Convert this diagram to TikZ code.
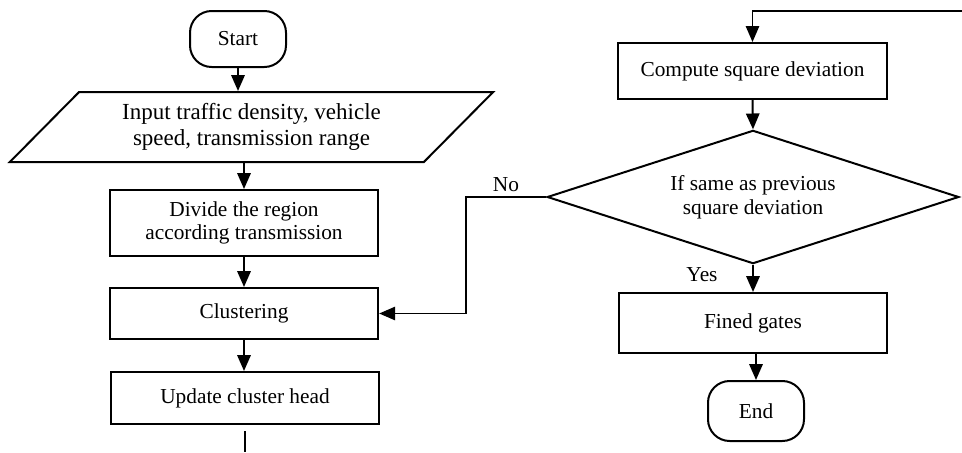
\documentclass[tikz,border=0pt]{standalone}
\usepackage{fontspec}
\setmainfont{Liberation Serif}
\usetikzlibrary{shapes.geometric,arrows.meta,positioning}

\tikzset{
  procbox/.style={draw, line width=1.2pt, minimum width=161pt, align=center, inner sep=2pt},
  termbox/.style={draw, line width=1.2pt, rounded corners=13pt, minimum width=57.6pt, align=center},
  iobox/.style={draw, line width=1.2pt, trapezium, trapezium left angle=36, trapezium right angle=144,
    trapezium stretches body, minimum width=290pt, minimum height=42pt, align=center, inner sep=1pt,
    font=\fontsize{13.8}{15.5}\selectfont},
  decbox/.style={draw, line width=1.2pt, diamond, aspect=3.1, minimum width=247pt, minimum height=80pt,
    align=center, inner sep=0pt},
  flowarrow/.style={-{Triangle[width=8pt,length=9.5pt]}, line width=1.2pt},
  thinarrow/.style={-{Triangle[width=8pt,length=9.5pt]}, line width=0.8pt}
}

\begin{document}
\begin{tikzpicture}[x=0.6pt, y=-0.6pt, font=\fontsize{12.8}{14.2}\selectfont]
  \useasboundingbox (0,0) rectangle (962,452);

  % Left column
  \node[termbox, minimum height=33.6pt] (start) at (238,39) {Start};
  \node[iobox] (input) at (251.5,127) {Input traffic density, vehicle\\speed, transmission range};
  \node[procbox, minimum height=39.6pt] (divide) at (244,223) {Divide the region\\according transmission};
  \node[procbox, minimum height=30.6pt] (cluster) at (244,313.5) {Clustering};
  \node[procbox, minimum height=31.2pt] (update) at (245,398) {Update cluster head};
  \coordinate (outtop) at (245,431);
  \coordinate (outbot) at (245,452);

  % Right column
  \coordinate (intop) at (962,11);
  \node[procbox, minimum height=33.6pt] (compute) at (752.5,71) {Compute square deviation};
  \node[decbox] (same) at (753,197) {If same as previous\\square deviation};
  \node[procbox, minimum height=36pt] (gates) at (753,323) {Fined gates};
  \node[termbox, minimum height=36pt] (end) at (756,411) {End};
  \coordinate (nobend) at (466,197);

  % Connectors
  \draw[flowarrow] (start.south) -- (start.south |- input.north);
  \draw[flowarrow] (divide.north |- input.south) -- (divide.north);
  \draw[flowarrow] (divide.south) -- (cluster.north);
  \draw[flowarrow] (cluster.south) -- (cluster.south |- update.north);
  \draw[line width=1.2pt] (outtop) -- (outbot);

  \draw[thinarrow] (intop) -| (compute.north);
  \draw[flowarrow] (compute.south) -- (same.north);
  \draw[flowarrow] (same.south) -- (gates.north);
  \draw[flowarrow] (gates.south -| end.north) -- (end.north);
  \draw[thinarrow] (same.west) -- (nobend) |- (cluster.east);

  % Labels
  \node (nolabel) at (506,185) {No};
  \node (yeslabel) at (702,275) {Yes};
\end{tikzpicture}
\end{document}
